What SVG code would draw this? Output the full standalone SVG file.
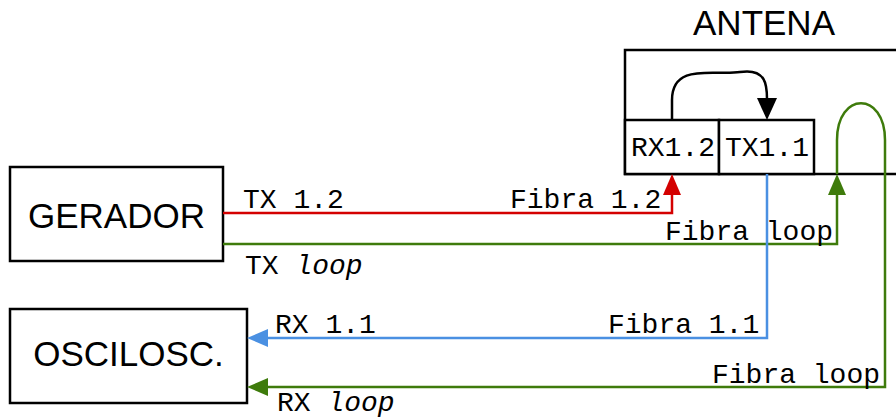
<svg xmlns="http://www.w3.org/2000/svg" width="896" height="419" viewBox="0 0 896 419">
  <style>
    .box { fill: #ffffff; stroke: #000000; stroke-width: 2.5; }
    .title { font-family: "Liberation Sans", Arial, sans-serif; font-size: 35px; fill: #000000; text-anchor: middle; }
    .mono { font-family: "Courier New", "Liberation Mono", monospace; font-size: 28px; fill: #000000; }
    .it { font-style: italic; }
    .wire { fill: none; stroke-width: 2.5; stroke-linejoin: miter; }
    .red { stroke: #d40000; }
    .blue { stroke: #4a90e2; }
    .green { stroke: #3e7b0b; }
    .black { stroke: #000000; }
  </style>

  <!-- antenna enclosure (runs off the right edge) -->
  <g id="antena">
    <path d="M896,50 L625,50 L625,174 L896,174" fill="#ffffff" stroke="#000000" stroke-width="2.5"/>
    <text class="title" x="764" y="35">ANTENA</text>
  </g>

  <g id="rx12">
    <rect class="box" x="625" y="120" width="94" height="54"/>
    <text class="mono" x="631" y="156">RX1.2</text>
  </g>

  <g id="tx11">
    <rect class="box" x="719" y="120" width="95" height="54"/>
    <text class="mono" x="725" y="156">TX1.1</text>
  </g>

  <g id="gerador">
    <rect class="box" x="10" y="167" width="213" height="94"/>
    <text class="title" x="116.5" y="228">GERADOR</text>
  </g>

  <g id="osciloscopio">
    <rect class="box" x="10" y="309" width="237" height="94"/>
    <text class="title" x="128.5" y="366">OSCILOSC.</text>
  </g>

  <g id="connectors">
    <!-- internal RX1.2 -> TX1.1 link -->
    <path class="wire black" d="M672,120 L672,100 C672,62 715,76 740,72 C766,68 767,85 767,99"/>
    <polygon points="757,98 777,98 767,120" fill="#000000"/>

    <!-- TX 1.2 : gerador -> RX1.2 -->
    <path class="wire red" d="M223,213 L672,213 L672,194"/>
    <polygon points="663,195 681,195 672,174" fill="#d40000"/>
    <text class="mono" x="243" y="208">TX 1.2</text>
    <text class="mono" x="510" y="208">Fibra 1.2</text>

    <!-- TX loop : gerador -> antenna loop -->
    <path class="wire green" d="M223,244 L837,244 L837,194"/>
    <polygon points="828,195 846,195 837,174" fill="#3e7b0b"/>
    <text class="mono" x="665" y="240">Fibra loop</text>
    <text class="mono" x="245" y="274">TX <tspan class="it">loop</tspan></text>

    <!-- fibre loop inside the antenna and back to the scope -->
    <path class="wire green" d="M837,174 L837,140 C837,91 885,91 885,140 L885,387 L266,387"/>
    <polygon points="268,378 268,396 247,387" fill="#3e7b0b"/>
    <text class="mono" x="712" y="383">Fibra loop</text>
    <text class="mono" x="277" y="411">RX <tspan class="it">loop</tspan></text>

    <!-- RX 1.1 : TX1.1 -> scope -->
    <path class="wire blue" d="M767,174 L767,338 L266,338"/>
    <polygon points="268,329 268,347 247,338" fill="#4a90e2"/>
    <text class="mono" x="275" y="333">RX 1.1</text>
    <text class="mono" x="608" y="333">Fibra 1.1</text>
  </g>
</svg>
